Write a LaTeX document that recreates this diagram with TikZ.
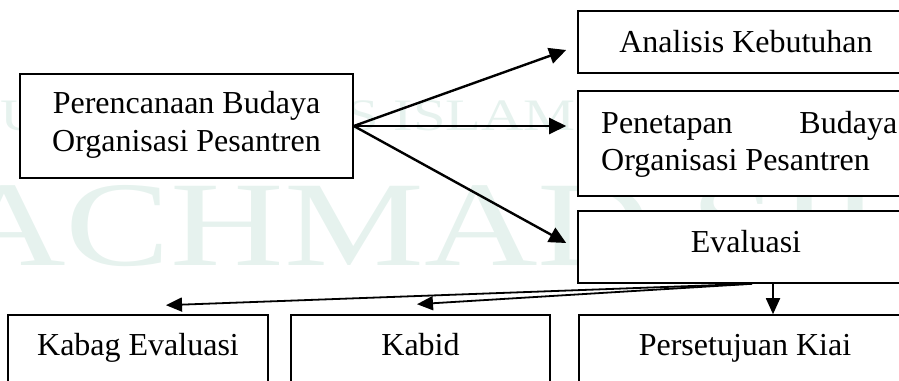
\documentclass[tikz,border=0pt]{standalone}
\usepackage{fontspec}
\setmainfont{Liberation Serif}
\usetikzlibrary{arrows.meta,calc}
\definecolor{wmteal}{RGB}{230,242,238}
\begin{document}
\begin{tikzpicture}[x=1pt,y=-1pt,
  box/.style={draw=black, line width=1.6pt, fill=white, inner sep=0pt, rectangle},
  lbl/.style={inner sep=0pt, font=\fontsize{32}{38}\selectfont},
  arr/.style={line width=2.4pt, -{Triangle[length=17pt,width=16pt]}},
  thinarr/.style={line width=1.8pt, -{Triangle[length=16pt,width=14pt]}},
  wm/.style={text=wmteal, inner sep=0pt, xscale=1.3}]
\useasboundingbox (0,0) rectangle (899,380);
\clip (0,0) rectangle (899,380);

% background watermark
\node[wm, anchor=base west, font=\fontsize{45}{50}\selectfont] (wmA) at (0,130) {UNIVERSITAS ISLAM NEGERI};
\node[wm, anchor=base west, font=\fontsize{121}{130}\selectfont] (wmB) at (-48,265) {ACHMAD SIDDIQ};

% boxes
\node[box, minimum width=333pt, minimum height=104pt] (per) at (186.5,126) {};
\node[box, minimum width=336pt, minimum height=62pt] (ana) at (746,42) {};
\node[box, minimum width=336pt, minimum height=105pt] (pen) at (746,143.5) {};
\node[box, minimum width=336pt, minimum height=72pt] (eva) at (746,247) {};
\node[box, minimum width=260pt, minimum height=90pt] (kab) at (138,360) {};
\node[box, minimum width=259pt, minimum height=90pt] (kbd) at (420.5,360) {};
\node[box, minimum width=335pt, minimum height=90pt] (pers) at (746.5,360) {};

% labels
\node[lbl, anchor=base] (perA) at (186.5,113) {Perencanaan Budaya};
\node[lbl, anchor=base] (perB) at (186.5,151) {Organisasi Pesantren};
\node[lbl, anchor=base] (anaT) at (746,52) {Analisis Kebutuhan};
\node[lbl, anchor=base west] (penA) at (601,133) {\makebox[296pt]{Penetapan\hfill Budaya}};
\node[lbl, anchor=base west] (penB) at (601,170) {Organisasi Pesantren};
\node[lbl, anchor=base] (evaT) at (746,252) {Evaluasi};
\node[lbl, anchor=base] (kabT) at (138,355) {Kabag Evaluasi};
\node[lbl, anchor=base] (kbdT) at (420.5,355) {Kabid};
\node[lbl, anchor=base] (persT) at (745,355) {Persetujuan Kiai};

% connectors
\draw[arr] (per.east) -- ($(ana.west)+(-11,8)$);
\draw[arr, shorten >=11pt] (per.east) -- (per.east -| pen.west);
\draw[arr] (per.east) -- ($(eva.west)+(-11,-4)$);
\coordinate (evaout) at ($(eva.south)+(6,0)$);
\draw[thinarr] (evaout) -- ($(kab.north)+(28,-9)$);
\draw[thinarr] (evaout) -- ($(kbd.north)+(-3.5,-10)$);
\draw[thinarr] ($(eva.south)+(27,0)$) -- ($(pers.north)+(26.5,0)$);
\end{tikzpicture}
\end{document}
